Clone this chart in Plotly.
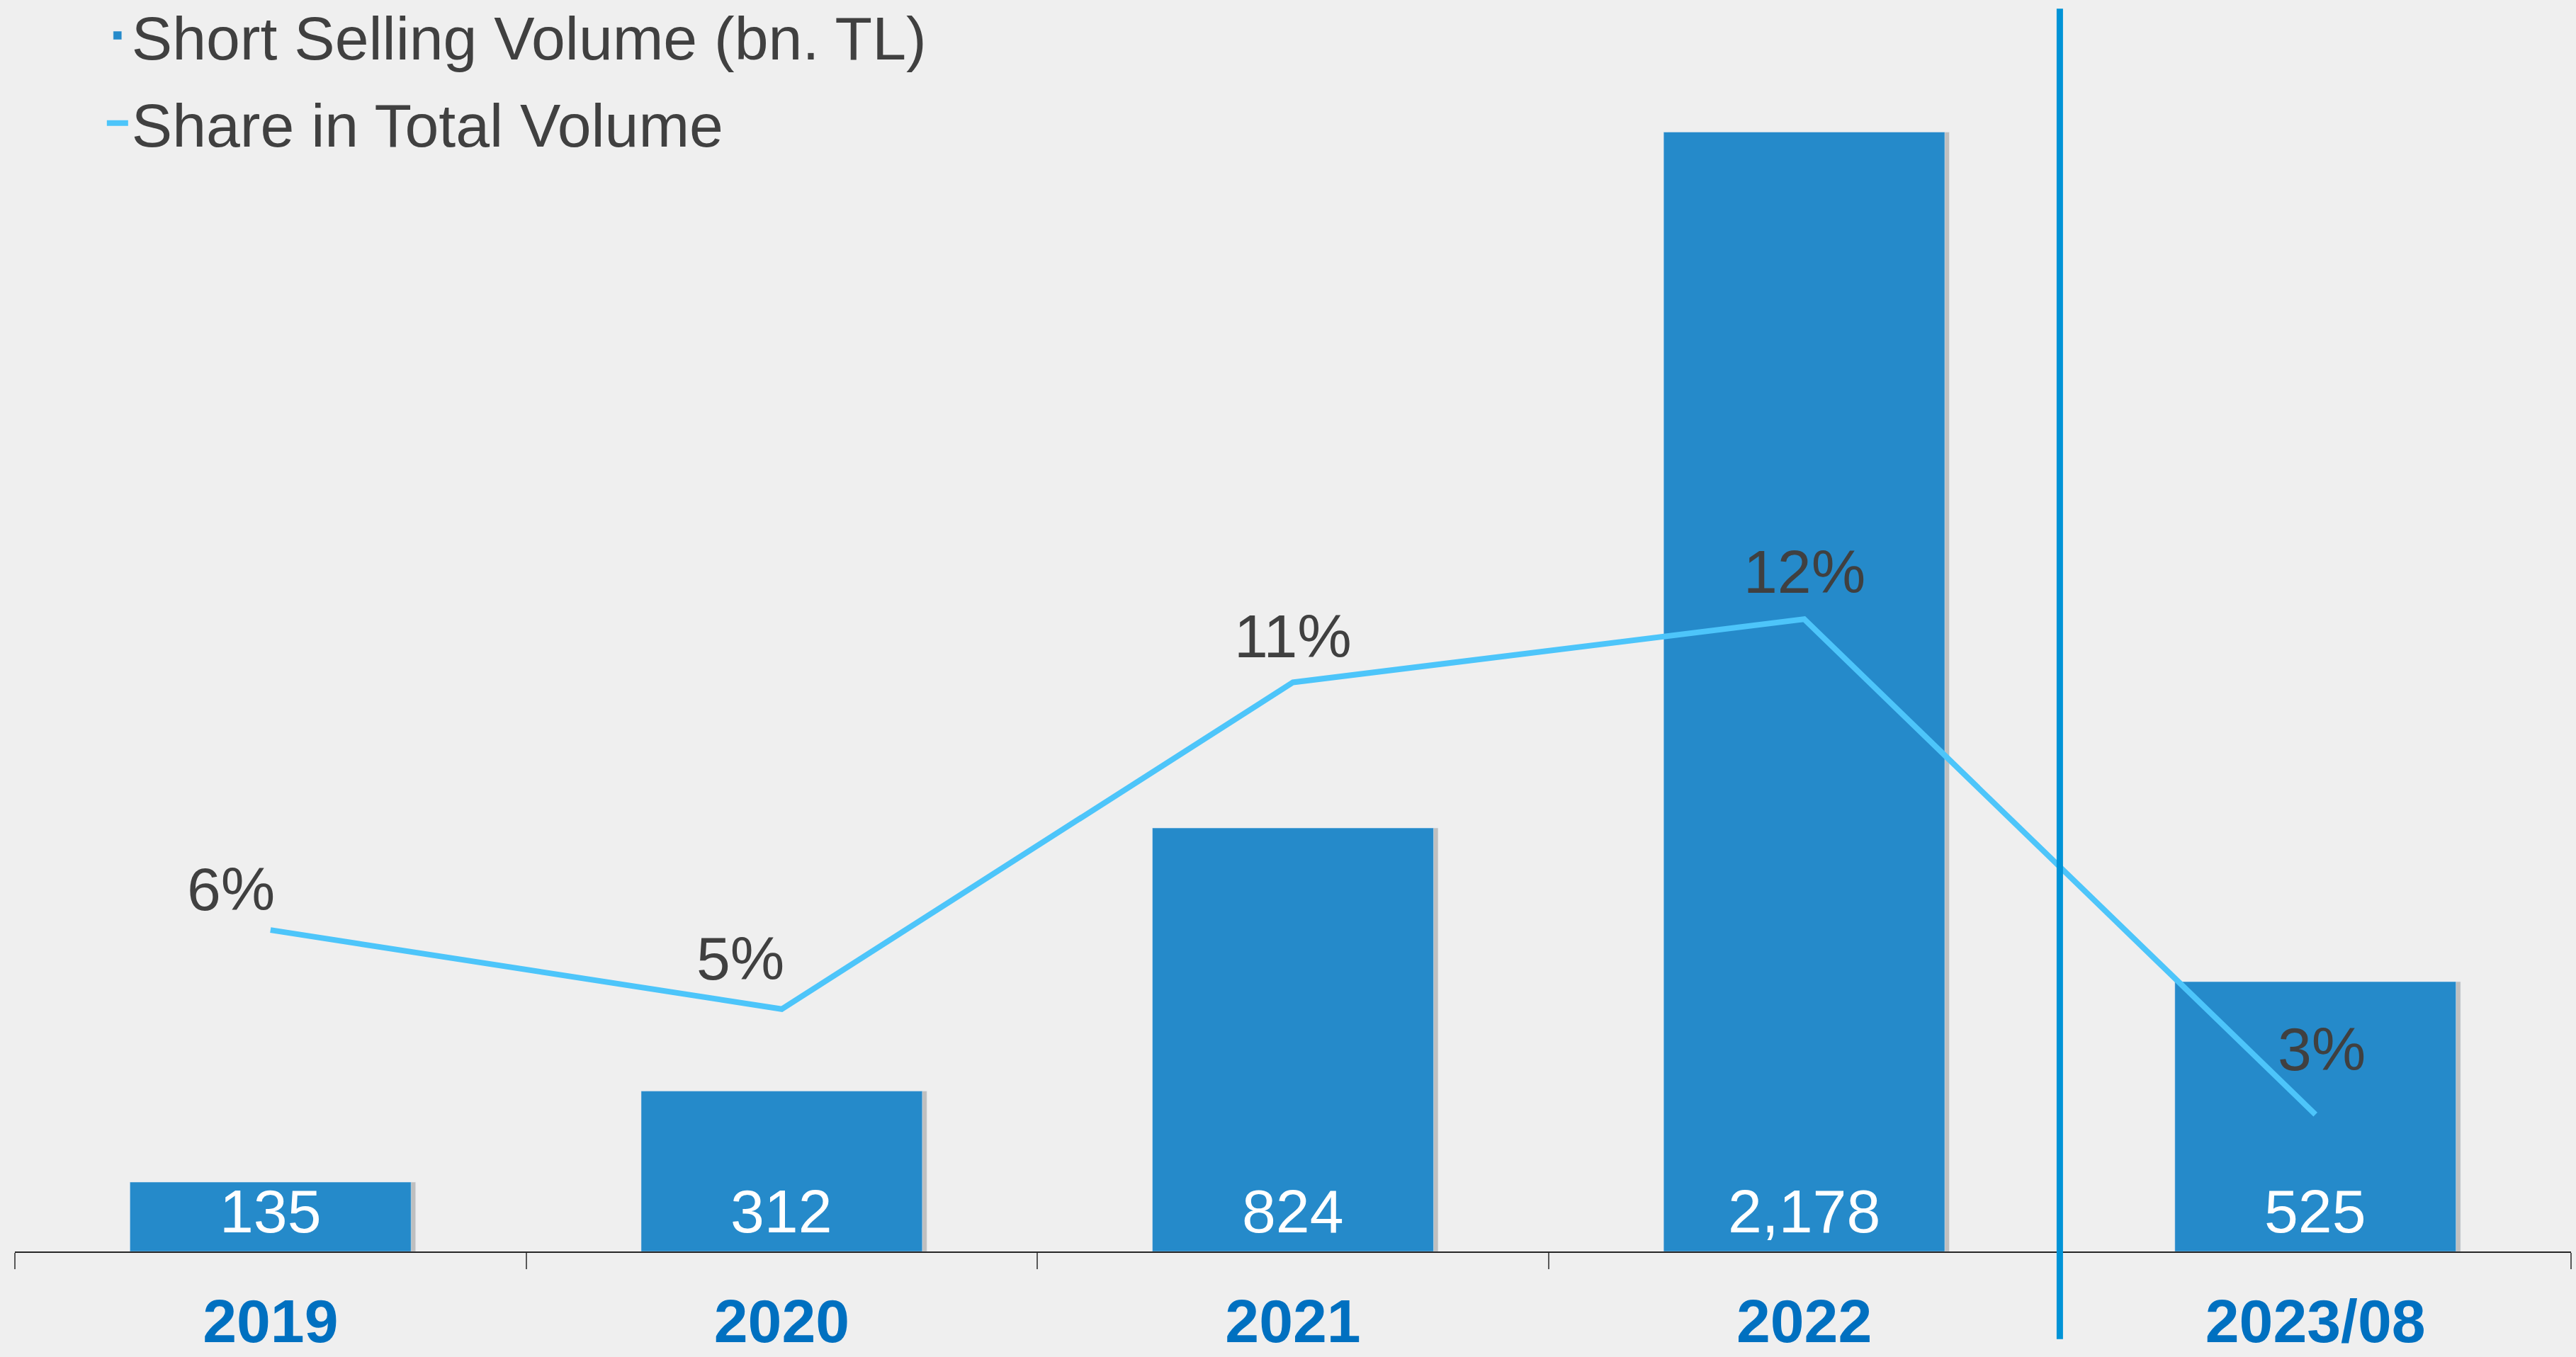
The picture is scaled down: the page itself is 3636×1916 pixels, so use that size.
import plotly.graph_objects as go

years = ["2019", "2020", "2021", "2022", "2023/08"]
volume_bn_tl = [135, 312, 824, 2178, 525]
share_pct = [6.1, 4.6, 10.8, 12.0, 2.6]

bar_blue = "#258ACA"
line_blue = "#4DC5FA"
divider_blue = "#0093D6"
label_grey = "#404040"
year_blue = "#0070C0"
font_family = "Liberation Sans, Arial, sans-serif"
# label offsets (px) of the % labels relative to their points
share_label_dx = [-56, -58, 0, 0, 9]
share_label_dy = [58, 72, 65, 67, 93]

fig = go.Figure()
# soft drop shadow behind the bars
fig.add_trace(go.Bar(x=years, y=volume_bn_tl, marker_color="rgba(70,70,70,0.28)",
                     width=0.55, offset=-0.266, showlegend=False, hoverinfo="skip"))
fig.add_trace(go.Bar(x=years, y=volume_bn_tl, name="Short Selling Volume (bn. TL)",
                     marker_color=bar_blue, width=0.55, offset=-0.275, hoverinfo="skip",
                     legendgroup="vol"))
fig.add_trace(go.Scatter(x=years, y=share_pct, yaxis="y2", mode="lines",
                         name="Share in Total Volume", legendgroup="share",
                         line=dict(color=line_blue, width=8)))

# value labels at the foot of each bar (x as category index: "2019" would be read as a number)
for i, v in enumerate(volume_bn_tl):
    fig.add_annotation(x=i, y=0, xref="x", yref="y", text=f"{v:,}", showarrow=False,
                       yanchor="middle", yshift=57,
                       font=dict(color="white", size=86, family=font_family))

# share labels above the line
for i, (v, dx, dy) in enumerate(zip(share_pct, share_label_dx, share_label_dy)):
    fig.add_annotation(x=i, y=v, xref="x", yref="y2", text=f"{round(v)}%", showarrow=False,
                       yanchor="middle", xshift=dx, yshift=dy,
                       font=dict(color=label_grey, size=86, family=font_family))

# divider between full years and the partial year
fig.add_shape(type="line", xref="x", yref="paper", x0=3.5, x1=3.5, y0=-0.07, y1=0.993,
              line=dict(color=divider_blue, width=9))

fig.update_layout(
    width=3636, height=1916, autosize=False,
    margin=dict(l=21, r=7, t=0, b=149, autoexpand=False),
    paper_bgcolor="#EFEFEF", plot_bgcolor="rgba(0,0,0,0)",
    barmode="overlay",
    font=dict(family=font_family, color=label_grey, size=86),
    legend=dict(x=0.0346, y=1.007, xanchor="left", yanchor="top", bgcolor="rgba(0,0,0,0)",
                font=dict(size=86, color=label_grey), traceorder="grouped",
                tracegroupgap=9),
    xaxis=dict(type="category", range=[-0.5, 4.5], showline=True, linecolor="#262626",
               linewidth=2, ticks="outside", tickson="boundaries", ticklen=23,
               tickcolor="#595959", tickwidth=2, showgrid=False, ticklabelstandoff=23,
               tickfont=dict(size=86, color=year_blue, weight="bold")),
    yaxis=dict(range=[0, 2435], showgrid=False, zeroline=False, showticklabels=False),
    yaxis2=dict(range=[0, 23.75], overlaying="y", side="right", visible=False),
)

fig.write_html("out.html", config={"displayModeBar": False},
               post_script="document.body.style.margin='0';")
